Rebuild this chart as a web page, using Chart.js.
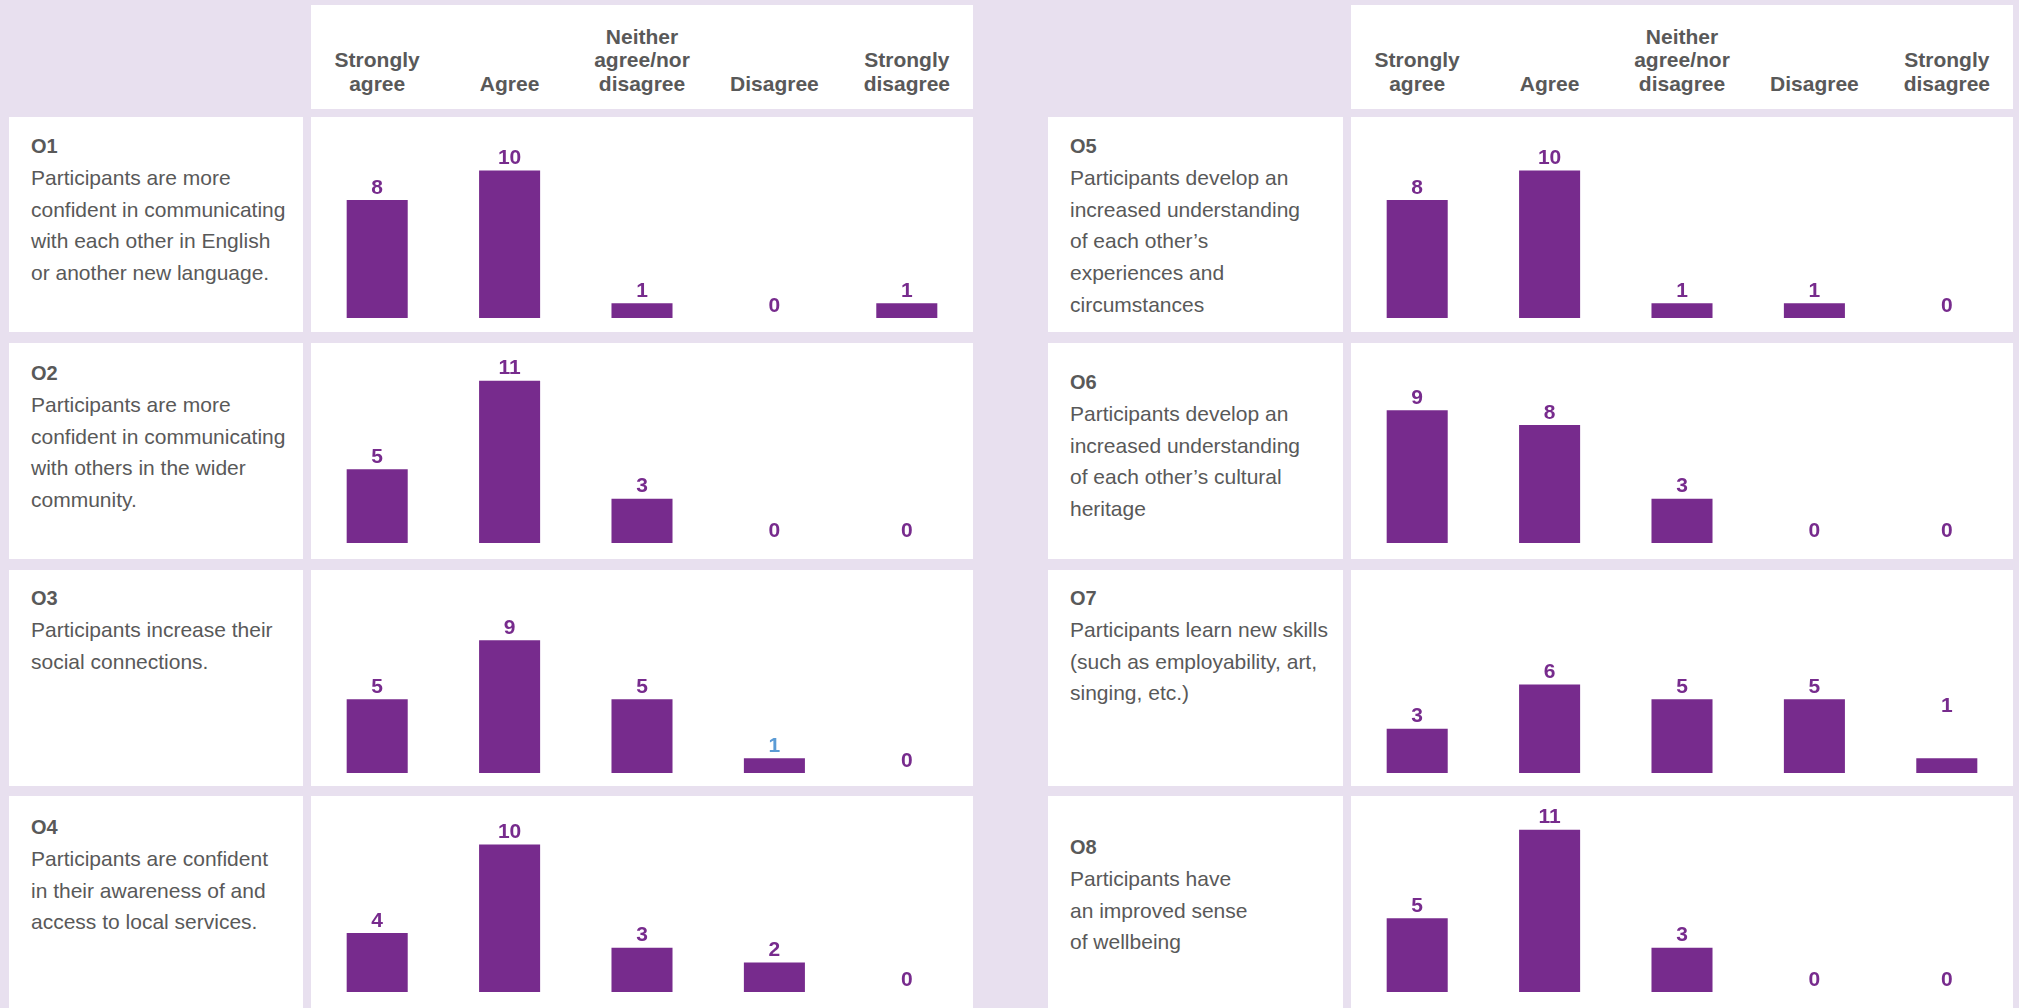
<!DOCTYPE html>
<html><head><meta charset="utf-8">
<script src="https://cdn.jsdelivr.net/npm/chart.js@4.4.1/dist/chart.umd.min.js"></script>
<style>
html,body{margin:0;padding:0;}
body{width:2019px;height:1008px;background:#E8E0EF;position:relative;overflow:hidden;font-family:"Liberation Sans",Arial,sans-serif;}
.box{position:absolute;background:#fff;box-sizing:border-box;}
.hdr{display:flex;align-items:flex-end;padding-bottom:14px;}
.hcell{flex:1 1 0;text-align:center;font-weight:bold;font-size:21px;line-height:23.5px;color:#595959;}
.lbl{padding-left:22px;color:#595959;}
.lbl .t{font-weight:bold;font-size:20px;line-height:31px;}
.lbl .d{font-size:21px;line-height:31.7px;white-space:nowrap;}
canvas{display:block;}
</style></head><body>
<script>
// ---- data ----
const categories = [["Strongly","agree"],["Agree"],["Neither","agree/nor","disagree"],["Disagree"],["Strongly","disagree"]];
const outcomeIds = ["O1","O2","O3","O4","O5","O6","O7","O8"];
const o1Values = [8,10,1,0,1];
const o2Values = [5,11,3,0,0];
const o3Values = [5,9,5,1,0];
const o4Values = [4,10,3,2,0];
const o5Values = [8,10,1,1,0];
const o6Values = [9,8,3,0,0];
const o7Values = [3,6,5,5,1];
const o8Values = [5,11,3,0,0];
const o1Text = ["Participants are more","confident in communicating","with each other in English","or another new language."];
const o2Text = ["Participants are more","confident in communicating","with others in the wider","community."];
const o3Text = ["Participants increase their","social connections."];
const o4Text = ["Participants are confident","in their awareness of and","access to local services."];
const o5Text = ["Participants develop an","increased understanding","of each other\u2019s","experiences and","circumstances"];
const o6Text = ["Participants develop an","increased understanding","of each other\u2019s cultural","heritage"];
const o7Text = ["Participants learn new skills","(such as employability, art,","singing, etc.)"];
const o8Text = ["Participants have","an improved sense","of wellbeing"];

// ---- layout / style ----
const BAR = '#772B8D', LABEL = '#772B8D', ALT_LABEL = '#5B9BD5';
const rowTops = [117, 343, 570, 796];
const rowHeights = [215, 216, 216, 212];
const rowPadBottom = [14, 16, 13, 16];
const columns = [{labelX:9,labelW:294,chartX:311,chartW:662},{labelX:1048,labelW:295,chartX:1351,chartW:662}];
const textPadTop = [14,15,13,16,14,24,13,36];
const PX_PER_UNIT = 14.75;
const panels = [
  {id:outcomeIds[0], values:o1Values, text:o1Text},
  {id:outcomeIds[1], values:o2Values, text:o2Text},
  {id:outcomeIds[2], values:o3Values, text:o3Text, labelColors:[null,null,null,ALT_LABEL,null]},
  {id:outcomeIds[3], values:o4Values, text:o4Text},
  {id:outcomeIds[4], values:o5Values, text:o5Text},
  {id:outcomeIds[5], values:o6Values, text:o6Text},
  {id:outcomeIds[6], values:o7Values, text:o7Text, labelLift:[0,0,0,0,40]},
  {id:outcomeIds[7], values:o8Values, text:o8Text}
];

const valueLabels = {
  id:'valueLabels',
  afterDatasetsDraw(chart, args, opts){
    const ctx = chart.ctx;
    const meta = chart.getDatasetMeta(0);
    const data = chart.data.datasets[0].data;
    ctx.save();
    ctx.font = 'bold 21px "Liberation Sans", Arial, sans-serif';
    ctx.textAlign = 'center';
    ctx.textBaseline = 'alphabetic';
    meta.data.forEach((bar, i) => {
      const lift = (opts.lift && opts.lift[i]) || 0;
      ctx.fillStyle = (opts.colors && opts.colors[i]) || LABEL;
      ctx.fillText(String(data[i]), bar.x, bar.y - 6.5 - lift);
    });
    ctx.restore();
  }
};

function el(tag, cls, style){ const e=document.createElement(tag); if(cls) e.className=cls; if(style) Object.assign(e.style, style); document.body.appendChild(e); return e; }

// header boxes
columns.forEach(c => {
  const h = el('div','box hdr',{left:c.chartX+'px',top:'5px',width:c.chartW+'px',height:'104px'});
  categories.forEach(lines => {
    const cell = document.createElement('div');
    cell.className='hcell';
    cell.innerHTML = lines.join('<br>');
    h.appendChild(cell);
  });
});

panels.forEach((p, idx) => {
  const col = columns[Math.floor(idx/4)];
  const r = idx % 4;
  const top = rowTops[r], h = rowHeights[r];
  const lb = el('div','box lbl',{left:col.labelX+'px',top:top+'px',width:col.labelW+'px',height:h+'px',paddingTop:textPadTop[idx]+'px'});
  const t = document.createElement('div'); t.className='t'; t.textContent=p.id; lb.appendChild(t);
  p.text.forEach(line => { const d=document.createElement('div'); d.className='d'; d.textContent=line; lb.appendChild(d); });

  const cb = el('div','box',{left:col.chartX+'px',top:top+'px',width:col.chartW+'px',height:h+'px'});
  const cv = document.createElement('canvas');
  cv.width = col.chartW; cv.height = h;
  cb.appendChild(cv);
  const plotH = h - rowPadBottom[r];
  new Chart(cv, {
    type:'bar',
    data:{
      labels: categories.map(l => l.join(' ')),
      datasets:[{data:p.values, backgroundColor:BAR, borderWidth:0, categoryPercentage:1, barPercentage:0.461}]
    },
    options:{
      responsive:false, animation:false, devicePixelRatio:1,
      layout:{padding:{top:0,bottom:rowPadBottom[r],left:0,right:0}},
      plugins:{legend:{display:false}, tooltip:{enabled:false},
        valueLabels:{colors:p.labelColors, lift:p.labelLift}},
      scales:{
        x:{display:false, grid:{display:false}},
        y:{display:false, min:0, max:plotH/PX_PER_UNIT, grid:{display:false}}
      }
    },
    plugins:[valueLabels]
  });
});
</script>
</body></html>
